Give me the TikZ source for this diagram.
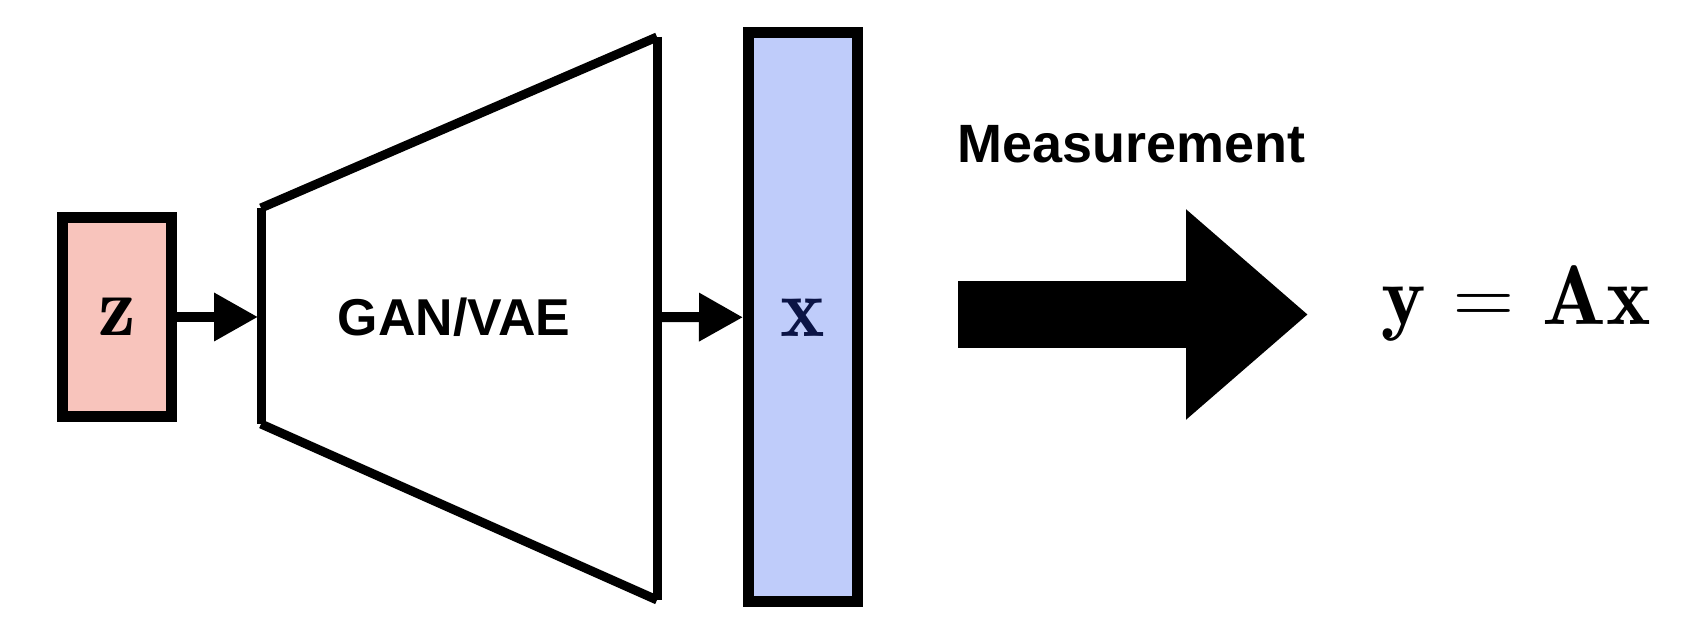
\documentclass[tikz,border=0pt]{standalone}
\usepackage{fontspec}
\newfontfamily\labelfont{Liberation Sans}
\usetikzlibrary{arrows.meta}
\definecolor{zpink}{RGB}{248,196,188}
\definecolor{xblue}{RGB}{191,204,250}
\definecolor{xnavy}{RGB}{11,20,69}
\tikzset{
  vecbox/.style={draw, line width=0.22cm, inner sep=0pt, minimum width=2.18cm},
  flow/.style={line width=0.2cm, -{Triangle[length=0.88cm, width=0.92cm]}},
  netline/.style={line width=0.18cm},
  bigmath/.style={font=\fontsize{48}{54}\selectfont},
  bigsans/.style={font=\labelfont\bfseries\fontsize{#1}{#1}\selectfont},
}
\begin{document}
\begin{tikzpicture}
\useasboundingbox (0, 0) rectangle (34.12, 12.88);

\draw ( 2.34, 6.54) node[vecbox, fill=zpink, minimum height=3.98cm, bigmath] (z) {$\mathbf{z}$};
\draw (16.06, 6.53) node[vecbox, fill=xblue, minimum height=11.38cm, bigmath, text=xnavy] (x) {$\mathbf{x}$};

\coordinate (g1) at ( 5.22,  8.72);
\coordinate (g2) at (13.14, 12.14);
\coordinate (g3) at (13.14,  0.88);
\coordinate (g4) at ( 5.22,  4.40);
\coordinate (gin)  at ( 5.16, 6.54);
\coordinate (gout) at (13.14, 6.54);

\draw[netline] (g1) -- (g2);
\draw[netline] (g2) -- (g3);
\draw[netline] (g3) -- (g4);
\draw[netline] (g4) -- (g1);

\draw (9.08, 6.54) node[bigsans=29.5] (gen) {GAN/VAE};

\draw[flow] (z) -- (gin);
\draw[flow] (gout) -- (x);

\draw (19.14, 9.62) node[anchor=base west, inner sep=0pt, bigsans=30.7] (meas) {Measurement};

\coordinate (m1) at (19.16, 6.59);
\coordinate (m2) at (26.16, 6.59);
\draw[line width=1.34cm, -{Triangle[length=2.44cm, width=4.05cm]}] (m1) -- (m2);

\draw (27.62, 6.38) node[anchor=base west, inner sep=0pt, bigmath] (eq) {$\mathbf{y}\hbox{\hskip.33em=\hskip.33em}\mathbf{A}\mathbf{x}$};
\end{tikzpicture}
\end{document}
